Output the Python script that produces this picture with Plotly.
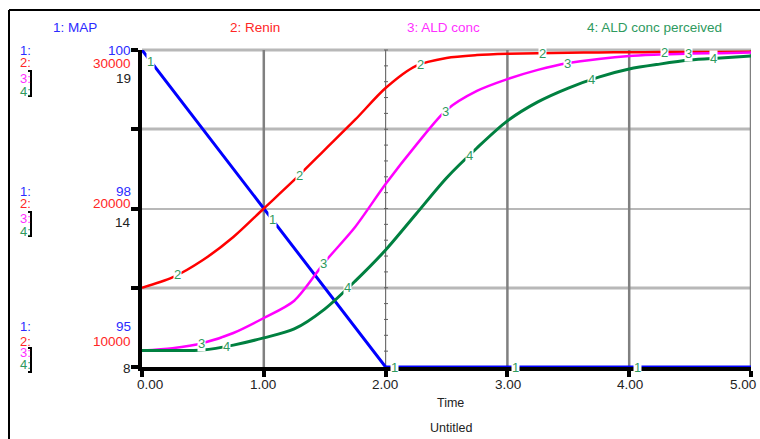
import numpy as np
import plotly.graph_objects as go

# ---------------- data ----------------
time = [0.0, 0.25, 0.5, 0.75, 1.0, 1.25, 1.5, 1.75, 2.0, 2.25, 2.5,
        2.75, 3.0, 3.25, 3.5, 3.75, 4.0, 4.25, 4.5, 4.75, 5.0]
map_vals = [100.0, 99.375, 98.75, 98.125, 97.5, 96.875, 96.25, 95.625, 95.0, 95.0, 95.0,
            95.0, 95.0, 95.0, 95.0, 95.0, 95.0, 95.0, 95.0, 95.0, 95.0]
renin = [15000, 15650, 16750, 18200, 20000, 21800, 23700, 25600, 27600, 29000, 29500,
         29680, 29760, 29800, 29830, 29850, 29860, 29870, 29880, 29880, 29890]
ald_conc = [8.57, 8.65, 8.83, 9.18, 9.70, 10.30, 11.64, 12.86, 14.35, 15.70, 16.92,
            17.58, 17.99, 18.31, 18.55, 18.69, 18.79, 18.84, 18.88, 18.89, 18.91]
ald_perc = [8.57, 8.57, 8.59, 8.76, 9.01, 9.32, 10.01, 10.98, 12.06, 13.31, 14.56,
            15.60, 16.54, 17.20, 17.68, 18.06, 18.34, 18.51, 18.65, 18.72, 18.79]

series_names = ["1: MAP", "2: Renin", "3: ALD conc", "4: ALD conc perceived"]
x_tick_labels = ["0.00", "1.00", "2.00", "3.00", "4.00", "5.00"]
map_labels = ["100", "98", "95"]
renin_labels = ["30000", "20000", "10000"]
ald_labels = ["19", "14", "8"]

# ---------------- styling ----------------
W, H = 760, 439
L, R, T, B = 142, 751, 50, 367             # plot area in page pixels
FONT = "Liberation Sans, Arial, sans-serif"
BLUE, RED, MAG, GRN = "#0000ff", "#ff0000", "#ff00ff", "#008040"
TBLUE, TRED, TMAG, TGRN = "#2b2bff", "#ff2626", "#ff30ff", "#2e9a5e"


def px(x):
    return (x - L) / (R - L)


def py(y):
    return (B - y) / (B - T)


fig = go.Figure()
fig.add_trace(go.Scatter(x=time, y=map_vals, mode="lines", line=dict(color=BLUE, width=3),
                         yaxis="y", name=series_names[0]))
fig.add_trace(go.Scatter(x=time, y=renin, mode="lines",
                         line=dict(color=RED, width=2.5, shape="spline", smoothing=0.8),
                         yaxis="y2", name=series_names[1]))
fig.add_trace(go.Scatter(x=time, y=ald_conc, mode="lines",
                         line=dict(color=MAG, width=2.5, shape="spline", smoothing=0.8),
                         yaxis="y3", name=series_names[2]))
fig.add_trace(go.Scatter(x=time, y=ald_perc, mode="lines",
                         line=dict(color=GRN, width=3, shape="spline", smoothing=0.8),
                         yaxis="y3", name=series_names[3]))

shapes = []
# frame: top and left edges
shapes.append(dict(type="line", xref="paper", yref="paper", x0=px(9), x1=px(770), y0=py(10), y1=py(10),
                   line=dict(color="black", width=2), layer="below"))
shapes.append(dict(type="line", xref="paper", yref="paper", x0=px(9), x1=px(9), y0=py(10), y1=py(450),
                   line=dict(color="black", width=2), layer="below"))
# horizontal grid
for yy in [50, 129, 288]:
    shapes.append(dict(type="line", xref="paper", yref="paper", x0=0, x1=1, y0=py(yy), y1=py(yy),
                       line=dict(color="#b8b8b8", width=3), layer="below"))
shapes.append(dict(type="line", xref="paper", yref="paper", x0=0, x1=1, y0=py(209), y1=py(209),
                   line=dict(color="#a0a0a0", width=1.5), layer="below"))
# vertical grid
for t in [1, 3, 4, 5]:
    shapes.append(dict(type="line", xref="x", yref="paper", x0=t, x1=t, y0=0, y1=1,
                       line=dict(color="#808080", width=2.5), layer="below"))
shapes.append(dict(type="line", xref="x", yref="paper", x0=2, x1=2, y0=0, y1=1,
                   line=dict(color="#707070", width=1.2), layer="below"))
# minor ticks on central crosshair
for k in range(21):
    yy = py(50 + k * 317 / 20)
    shapes.append(dict(type="line", xref="paper", yref="paper", x0=px(384), x1=px(388), y0=yy, y1=yy,
                       line=dict(color="#606060", width=1), layer="below"))
# brackets for series 3/4 sharing a scale
for top, bot in [(71, 96), (212, 236), (348, 372)]:
    shapes.append(dict(type="path", xref="paper", yref="paper",
                       path=f"M {px(28)} {py(top)} L {px(31)} {py(top)} L {px(31)} {py(bot)} L {px(28)} {py(bot)}",
                       line=dict(color="black", width=2)))

ann = []


def text(x, y, s, color, size=13, xanchor="center"):
    ann.append(dict(x=px(x), y=py(y), xref="paper", yref="paper", text=s, showarrow=False,
                    xanchor=xanchor, yanchor="middle", font=dict(family=FONT, size=size, color=color)))


# header titles
for s, c, xc in zip(series_names, [TBLUE, TRED, TMAG, TGRN], [75, 255, 443, 654]):
    text(xc, 27, s, c, 13.5)

# left scale groups
groups = [([50, 63, 78, 91], [50, 64, 78], 0), ([191, 203, 218, 231], [191, 203, 223], 1),
          ([326, 341, 352, 364], [326, 341, 368], 2)]
for ys, vys, i in groups:
    for lab, c, yy in zip(["1:", "2:", "3:", "4:"], [TBLUE, TRED, TMAG, TGRN], ys):
        text(18, yy, lab, c, 13, "left")
    text(133, vys[0], map_labels[i], TBLUE, 13.5, "right")
    text(133, vys[1], renin_labels[i], TRED, 13.5, "right")
    text(133, vys[2], ald_labels[i], "#222222", 13.5, "right")

# x tick labels
for s, xc in zip(x_tick_labels, [150, 263, 385, 508, 630, 743]):
    text(xc, 384, s, "#222222", 13.5)
text(450, 403, "Time", "#222222", 12.5)
text(451, 428, "Untitled", "#222222", 12.5)

# curve number labels
label_specs = [("1", map_vals, "y", 0.07), ("2", renin, "y2", 0.29),
               ("3", ald_conc, "y3", 0.49), ("4", ald_perc, "y3", 0.69)]
for s, vals, yref, t0 in label_specs:
    for k in range(5):
        t = t0 + k
        v = float(np.interp(t, time, vals))
        ann.append(dict(x=t, y=v, xref="x", yref=yref, text=s, showarrow=False,
                        bgcolor="white", borderpad=0,
                        font=dict(family=FONT, size=13, color=TGRN)))

fig.update_layout(
    width=W, height=H,
    margin=dict(l=L, r=W - R, t=T, b=H - B, pad=0),
    paper_bgcolor="white", plot_bgcolor="white", showlegend=False,
    xaxis=dict(range=[0, 5], showgrid=False, zeroline=False, showline=True, linecolor="black",
               linewidth=4, ticks="outside", tickvals=[0, 1, 2, 3, 4, 5], ticklen=6, tickwidth=4,
               tickcolor="black", showticklabels=False),
    yaxis=dict(range=[95, 100], showgrid=False, zeroline=False, showline=True, linecolor="black",
               linewidth=4, ticks="outside", tickvals=[95, 96.25, 97.5, 98.75, 100], ticklen=7,
               tickwidth=4, tickcolor="black", showticklabels=False),
    yaxis2=dict(range=[10000, 30000], overlaying="y", visible=False),
    yaxis3=dict(range=[8, 19], overlaying="y", visible=False),
    shapes=shapes, annotations=ann,
)
fig.write_html("out.html", config={"displayModeBar": False},
               post_script="document.body.style.margin='0';"
                           "document.documentElement.style.overflow='hidden';"
                           "document.body.style.overflow='hidden';")
